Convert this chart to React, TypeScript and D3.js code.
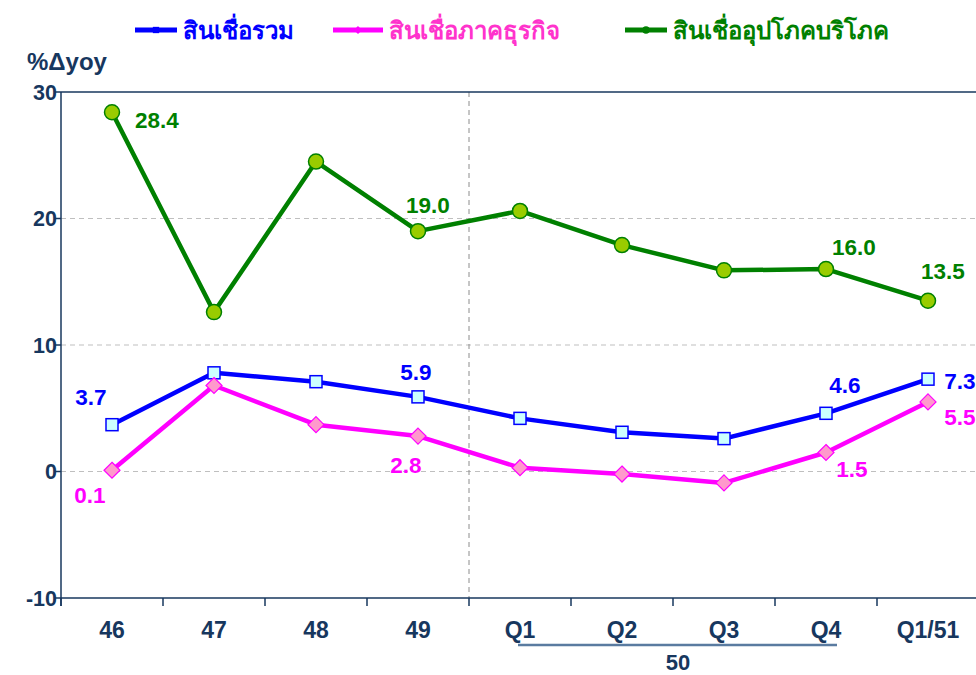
import React from "react";
import * as d3 from "d3";

const categories = ["46", "47", "48", "49", "Q1", "Q2", "Q3", "Q4", "Q1/51"];
const totalLoans = [3.7, 7.8, 7.1, 5.9, 4.2, 3.1, 2.6, 4.6, 7.3];
const businessLoans = [0.1, 6.8, 3.7, 2.8, 0.3, -0.2, -0.9, 1.5, 5.5];
const consumerLoans = [28.4, 12.6, 24.5, 19.0, 20.6, 17.9, 15.9, 16.0, 13.5];
const yTicks = [30, 20, 10, 0, -10];
const seriesNames = ["สินเชื่อรวม", "สินเชื่อภาคธุรกิจ", "สินเชื่ออุปโภคบริโภค"];
const yearGroupLabel = "50";

// indices of points that carry a value label
const totalLabelIdx = [0, 3, 7, 8];
const businessLabelIdx = [0, 3, 7, 8];
const consumerLabelIdx = [0, 3, 7, 8];

const W = 976;
const H = 675;
const margin = { top: 92, left: 61, bottom: 77 };
const navy = "#17375E";
const font = "'Liberation Sans', Arial, 'DejaVu Sans', sans-serif";

export default function App() {
  const x = d3
    .scaleBand<string>()
    .domain(categories)
    .range([margin.left, margin.left + categories.length * 102]);
  const cx = (i: number) => (x(categories[i]) as number) + x.bandwidth() / 2;
  const y = d3.scaleLinear().domain([-10, 30]).range([H - margin.bottom, margin.top]);

  const line = d3
    .line<number>()
    .x((d, i) => cx(i))
    .y((d) => y(d));

  const series = [
    {
      name: seriesNames[0],
      data: totalLoans,
      color: "#0000FF",
      fill: "#CCFFFF",
      marker: "square",
      labels: totalLabelIdx,
      offsets: [[-21, -28], [-2, -25], [19, -28], [32, 2]],
    },
    {
      name: seriesNames[1],
      data: businessLoans,
      color: "#FF00FF",
      fill: "#FF99CC",
      marker: "diamond",
      labels: businessLabelIdx,
      offsets: [[-22, 25], [-12, 29], [26, 16], [32, 15]],
    },
    {
      name: seriesNames[2],
      data: consumerLoans,
      color: "#008000",
      fill: "#99CC00",
      marker: "circle",
      labels: consumerLabelIdx,
      offsets: [[45, 8], [10, -26], [28, -22], [15, -30]],
    },
  ];

  const xTicks = d3.range(categories.length + 1).map((i) => margin.left + i * x.step());
  const splitX = xTicks[4];

  const marker = (type: string, px: number, py: number, color: string, fill: string, key: string, s = 1) => {
    if (type === "square")
      return <rect key={key} x={px - 6 * s} y={py - 6 * s} width={12 * s} height={12 * s} fill={fill} stroke={color} strokeWidth={1.5} />;
    if (type === "diamond")
      return (
        <path
          key={key}
          d={`M${px},${py - 8 * s}L${px + 8 * s},${py}L${px},${py + 8 * s}L${px - 8 * s},${py}Z`}
          fill={fill}
          stroke={color}
          strokeWidth={1.2}
        />
      );
    return <circle key={key} cx={px} cy={py} r={7.5 * s} fill={fill} stroke={color} strokeWidth={1.5} />;
  };

  const legendX = [135, 333, 625];

  return (
    <svg width={W} height={H} style={{ position: "absolute", left: 0, top: 0, background: "#fff" }} fontFamily={font}>
      {/* legend */}
      {series.map((s, k) => {
        const len = k === 1 ? 50 : 42;
        return (
          <g key={s.name} transform={`translate(${legendX[k]},30)`}>
            <line x1={0} x2={len} y1={0} y2={0} stroke={s.color} strokeWidth={5} />
            {marker(s.marker, len / 2, 0, s.color, s.color, "lm", 0.4)}
            <text x={len + 6} y={9} fontSize={24} fontWeight="bold" fill={k === 1 ? "#FF33CC" : s.color}>
              {s.name}
            </text>
          </g>
        );
      })}

      <text x={27} y={70} fontSize={24} fontWeight="bold" fill={navy}>
        %Δyoy
      </text>

      {/* grid */}
      {yTicks.filter((t) => t !== 30 && t !== -10).map((t) => (
        <line key={t} x1={margin.left} x2={W} y1={y(t)} y2={y(t)} stroke="#BFBFBF" strokeWidth={1} strokeDasharray="5,4" />
      ))}
      <line x1={splitX} x2={splitX} y1={y(30)} y2={y(-10)} stroke="#8C8C8C" strokeWidth={1} strokeDasharray="5,4" />

      {/* frame / axes */}
      <line x1={margin.left} x2={W} y1={y(30)} y2={y(30)} stroke={navy} strokeWidth={1.5} />
      <line x1={margin.left} x2={W} y1={y(-10)} y2={y(-10)} stroke={navy} strokeWidth={1.5} />
      <line x1={margin.left} x2={margin.left} y1={y(30)} y2={y(-10) + 8} stroke={navy} strokeWidth={1.5} />
      {yTicks.map((t) => (
        <g key={t}>
          <line x1={margin.left - 6} x2={margin.left} y1={y(t)} y2={y(t)} stroke={navy} strokeWidth={1.5} />
          <text x={margin.left - 4} y={y(t) + 7.5} textAnchor="end" fontSize={21.5} fontWeight="bold" fill={navy}>
            {t}
          </text>
        </g>
      ))}
      {xTicks.map((t, i) => (
        <line key={i} x1={t} x2={t} y1={y(-10)} y2={y(-10) + 8} stroke={navy} strokeWidth={1.5} />
      ))}
      {categories.map((c, i) => (
        <text key={c} x={cx(i)} y={638} textAnchor="middle" fontSize={23} fontWeight="bold" fill={navy}>
          {c}
        </text>
      ))}
      <line x1={cx(4) - 2} x2={cx(7) + 11} y1={645} y2={645} stroke="#5A7BA0" strokeWidth={2.5} />
      <text x={(cx(4) + cx(7)) / 2 + 5} y={670} textAnchor="middle" fontSize={22} fontWeight="bold" fill={navy}>
        {yearGroupLabel}
      </text>

      {/* series */}
      {series.map((s) => (
        <g key={s.name}>
          <path d={line(s.data) as string} fill="none" stroke={s.color} strokeWidth={4.5} strokeLinejoin="round" />
          {s.data.map((d, i) => marker(s.marker, cx(i), y(d), s.color, s.fill, `${s.name}-${i}`))}
          {s.labels.map((i, k) => (
            <text
              key={i}
              x={cx(i) + s.offsets[k][0]}
              y={y(s.data[i]) + s.offsets[k][1] + 8}
              textAnchor="middle"
              fontSize={22.5}
              fontWeight="bold"
              fill={s.color}
            >
              {s.data[i].toFixed(1)}
            </text>
          ))}
        </g>
      ))}
    </svg>
  );
}
